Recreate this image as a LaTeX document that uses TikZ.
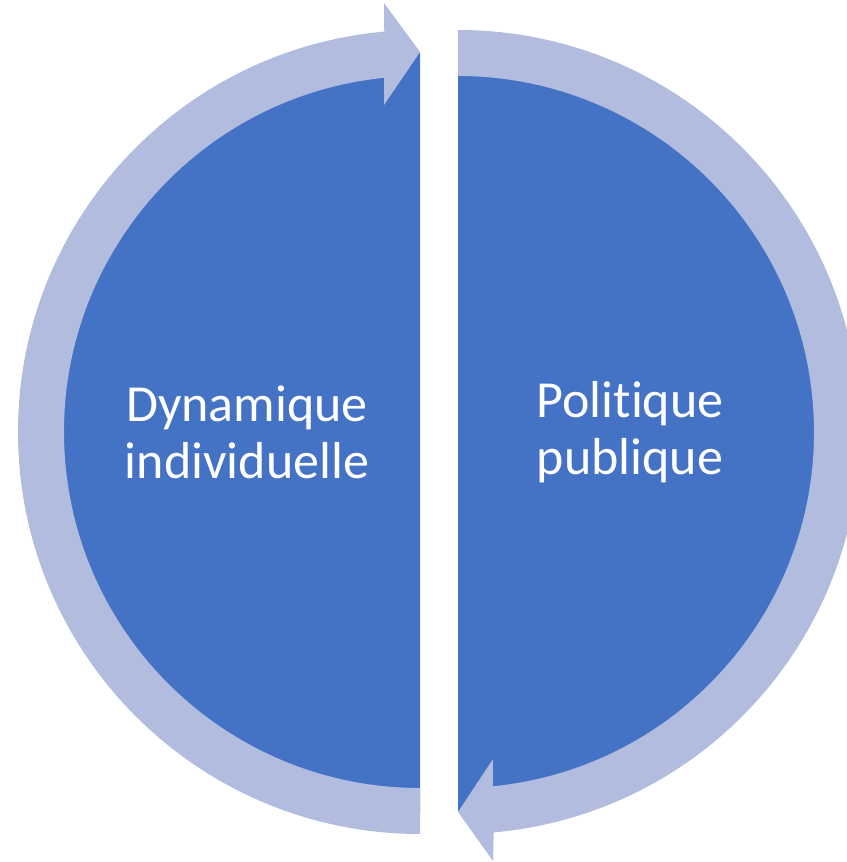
\documentclass[tikz,border=0pt]{standalone}
\usepackage{fontspec}
\setmainfont{Carlito}[Ligatures={NoCommon}]
\usepackage{tikz}
\usetikzlibrary{calc}
\definecolor{discblue}{HTML}{4472C4}
\definecolor{ringblue}{HTML}{B1BCDF}

\begin{document}
\begin{tikzpicture}[x=1pt,y=1pt,
        halfdisc/.style={fill=discblue,draw=none},
        ringarrow/.style={fill=ringblue,draw=none},
        label/.style={text=white,align=center,font=\fontsize{52}{57}\selectfont}]
    \useasboundingbox (0,0) rectangle (846,862);
    \coordinate (cl) at (420,430);
    \coordinate (cr) at (458,430);
    % half discs
    \fill[halfdisc] ($(cl)+(0,379)$) arc[start angle=90,end angle=270,radius=379] -- cycle;
    \fill[halfdisc] ($(cr)+(0,379)$) arc[start angle=90,end angle=-90,radius=379] -- cycle;
    % left ring, arrow pointing right at the top
    \begin{scope}[shift={(cl)}]
        \fill[ringarrow] (270:402) arc[start angle=270,end angle=95.1,radius=402]
            -- (-36,429) -- (0,380) -- (-36,327)
            -- (95.8:356) arc[start angle=95.8,end angle=270,radius=356] -- cycle;
    \end{scope}
    % right ring, arrow pointing left at the bottom
    \begin{scope}[shift={(cr)}]
        \fill[ringarrow] (90:402) arc[start angle=90,end angle=-84.9,radius=402]
            -- (35,-429) -- (0,-380) -- (35,-327)
            -- (-84.4:356) arc[start angle=-84.4,end angle=90,radius=356] -- cycle;
    \end{scope}
    \node[label] (dyn) at (247,430) {Dynamique\\individuelle};
    \node[label] (pol) at (630,430) {Politique\\publique};
\end{tikzpicture}
\end{document}
